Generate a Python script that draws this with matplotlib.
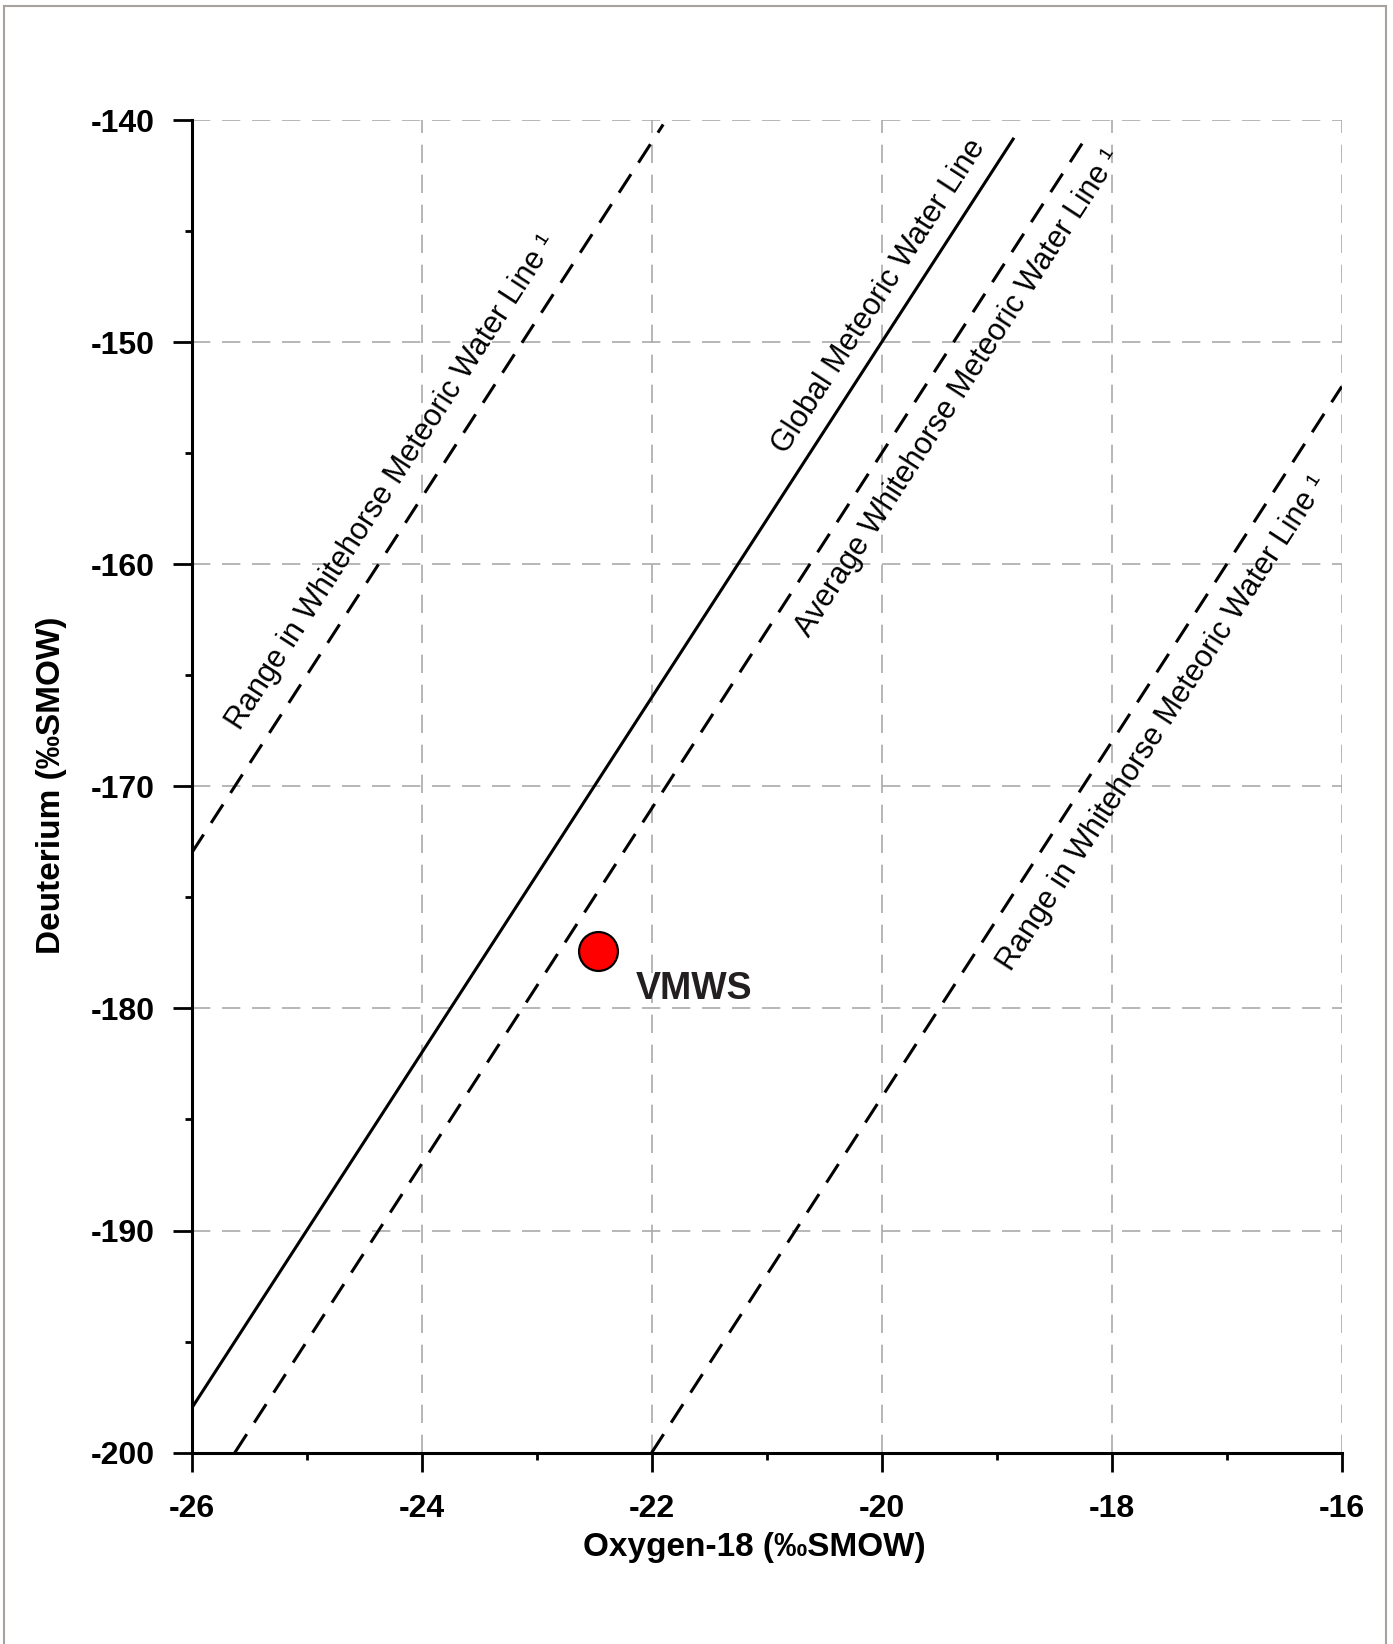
import numpy as np
import matplotlib
matplotlib.use("Agg")
import matplotlib.pyplot as plt
from matplotlib.lines import Line2D

plt.rcParams['font.family'] = ['Liberation Sans', 'DejaVu Sans']

# water lines: dD = slope * d18O + intercept, drawn between x_start and x_end
slope = 8.0
gmwl_x = [-26.0, -18.85]
gmwl_b = 10.0
avg_x = [-25.625, -18.2]
avg_b = 5.0
range_hi_x = [-26.0, -21.9]
range_hi_b = 35.0
range_lo_x = [-22.0, -16.0]
range_lo_b = -24.0

# sample
sample_name = "VMWS"
sample_o18 = -22.47
sample_d = -177.4

# labels (centre positions along each line)
labels = ["Range in Whitehorse Meteoric Water Line \u00b9",
          "Global Meteoric Water Line",
          "Average Whitehorse Meteoric Water Line \u00b9",
          "Range in Whitehorse Meteoric Water Line \u00b9"]
label_x = [-24.26, -20.02, -19.33, -17.56]
label_y = [-156.3, -147.95, -152.3, -167.17]

xticks = [-26, -24, -22, -20, -18, -16]
yticks = [-200, -190, -180, -170, -160, -150, -140]

fig = plt.figure(figsize=(13.93, 16.44), dpi=100)
ax = fig.add_axes([0.1376, 0.1164, 0.8256, 0.8106])

def line_pts(xr, b):
    x = np.array(xr)
    return x, slope * x + b

dash = (7.2, 4.5)
x, y = line_pts(gmwl_x, gmwl_b)
ax.plot(x, y, color='black', lw=2.2, solid_capstyle='butt', zorder=3)
for xr, b in [(avg_x, avg_b), (range_hi_x, range_hi_b), (range_lo_x, range_lo_b)]:
    x, y = line_pts(xr, b)
    ax.plot(x, y, color='black', lw=2.2, dashes=dash, dash_capstyle='butt', zorder=3)

ax.plot([sample_o18], [sample_d], 'o', ms=28, mfc='#ff0000', mec='black', mew=1.6, zorder=5)
ax.text(-22.14, -179.13, sample_name, fontsize=27, fontweight='bold', color='#231f20',
        ha='left', va='center')

ax.set_xlim(-26, -16)
ax.set_ylim(-200, -140)
ax.set_xticks(xticks)
ax.set_yticks(yticks)
ax.set_xticks(np.arange(-25, -16, 2), minor=True)
ax.set_yticks(np.arange(-195, -140, 10), minor=True)
ax.set_xticklabels([str(v) for v in xticks], fontsize=23, fontweight='bold')
ax.set_yticklabels([str(v) for v in yticks], fontsize=23, fontweight='bold')
ax.tick_params(which='major', direction='out', length=13.5, width=2, pad=13)
ax.tick_params(axis='x', which='major', pad=16)
ax.tick_params(which='minor', direction='out', length=5, width=2)

ax.grid(True, which='major', color='#aaaaaa', lw=1.2, dashes=(11, 7))
ax.set_axisbelow(True)
for s in ['top', 'right']:
    ax.spines[s].set_visible(False)
for s in ['left', 'bottom']:
    ax.spines[s].set_linewidth(2.2)

ax.set_xlabel("Oxygen-18 (\u2030SMOW)", fontsize=24, fontweight='bold', va='center')
ax.xaxis.set_label_coords(0.489, -0.0715)
ax.set_ylabel("Deuterium (\u2030SMOW)", fontsize=24, fontweight='bold', va='center')
ax.yaxis.set_label_coords(-0.1215, 0.501)

# rotation of the line labels on screen
p0 = ax.transData.transform((-24, slope * -24))
p1 = ax.transData.transform((-23, slope * -23))
ang = np.degrees(np.arctan2(p1[1] - p0[1], p1[0] - p0[0]))
for t, lx, ly in zip(labels, label_x, label_y):
    ax.text(lx, ly, t, fontsize=22, rotation=ang, rotation_mode='anchor',
            ha='center', va='center', zorder=4)

# thin frame around the picture
fc = '#a8a29f'
fig.add_artist(Line2D([0.003, 0.003], [0, 0.9966], color=fc, lw=1.5))
fig.add_artist(Line2D([0.003, 0.9953], [0.9966, 0.9966], color=fc, lw=1.5))
fig.add_artist(Line2D([0.9953, 0.9953], [0, 0.9966], color=fc, lw=1.5))

fig.savefig("out.png", dpi=100)
